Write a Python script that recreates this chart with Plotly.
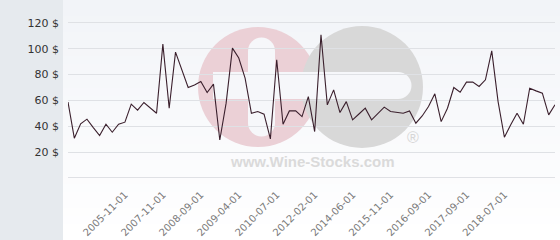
import plotly.graph_objects as go

prices = [58.7, 30.8, 41.9, 45.5, 39.0, 32.8, 41.6, 35.4, 41.6, 43.2,
          57.1, 52.5, 58.4, 54.2, 50.1, 103.6, 54.0, 97.4, 84.0, 70.0,
          72.0, 74.7, 66.1, 72.6, 29.4, 57.9, 100.5, 92.8, 77.3, 50.1,
          51.4, 49.4, 30.2, 91.5, 41.6, 51.9, 51.9, 47.5, 63.0, 35.9,
          110.8, 56.6, 68.2, 50.6, 59.1, 45.0, 49.5, 54.0, 45.0, 50.0,
          54.8, 51.4, 50.9, 50.1, 51.9, 42.4, 48.0, 55.3, 65.1, 43.6,
          54.0, 70.0, 66.4, 74.2, 74.2, 70.8, 76.0, 98.4, 59.1, 31.5,
          41.1, 50.1, 41.6, 69.5, 67.4, 65.6, 48.8, 56.6]
x_index = list(range(len(prices)))

x_tick_pos = [9, 15, 21, 27, 33, 39, 45, 51, 57, 63, 69]
x_tick_labels = ["2005-11-01", "2007-11-01", "2008-09-01", "2009-04-01",
                 "2010-07-01", "2012-02-01", "2014-06-01", "2015-11-01",
                 "2016-09-01", "2017-09-01", "2018-07-01"]
y_tick_vals = [0, 20, 40, 60, 80, 100, 120]
y_tick_labels = ["", "20 $", "40 $", "60 $", "80 $", "100 $", "120 $"]

W, H = 560, 240
L, R, T, B = 68, 5, 10, 61
PW, PH = W - L - R, H - T - B


def px(x):
    return (x - L) / PW


def py(y):
    return (H - B - y) / PH


shapes = []
shapes.append(dict(type="rect", xref="paper", yref="paper", x0=px(0), x1=px(63),
                   y0=py(240), y1=py(0), fillcolor="#e6eaee", line_width=0, layer="below"))
n = 30
c0 = (242, 244, 248)
c1 = (255, 255, 255)
for i in range(n):
    t = i / (n - 1)
    col = tuple(round(c0[k] + (c1[k] - c0[k]) * t) for k in range(3))
    shapes.append(dict(type="rect", xref="paper", yref="paper", x0=px(63), x1=px(560),
                       y0=py(240 * (i + 1) / n + 0.5), y1=py(240 * i / n),
                       fillcolor="rgb(%d,%d,%d)" % col, line_width=0, layer="below"))


def circ(cx, cy, r, color):
    return dict(type="circle", xref="paper", yref="paper", x0=px(cx - r), x1=px(cx + r),
                y0=py(cy + r), y1=py(cy - r), fillcolor=color, line_width=0, layer="below")


def rect(x0, y0, x1, y1, color):
    return dict(type="rect", xref="paper", yref="paper", x0=px(x0), x1=px(x1),
                y0=py(y1), y1=py(y0), fillcolor=color, line_width=0, layer="below")

pink = "#ebd0d6"
grey = "#d8d8d8"
wm = "#f6f7fa"
shapes.append(circ(258, 87, 60, pink))
shapes.append(circ(362, 87, 61, grey))
shapes.append(rect(213, 72, 398, 99, wm))
shapes.append(circ(398, 85.5, 13.5, wm))
shapes.append(rect(248, 51, 275, 123, wm))
shapes.append(circ(261.5, 51, 13.5, wm))
shapes.append(circ(261.5, 123, 13.5, wm))

fig = go.Figure()
fig.add_trace(go.Scatter(x=x_index, y=prices, mode="lines",
                         line=dict(color="#3a1f2c", width=1.1), hoverinfo="skip"))

fig.update_layout(
    width=W, height=H,
    margin=dict(l=L, r=R, t=T, b=B, autoexpand=False),
    paper_bgcolor="white",
    plot_bgcolor="rgba(0,0,0,0)",
    showlegend=False,
    shapes=shapes,
    annotations=[
        dict(text="<b>www.Wine-Stocks.com</b>", xref="paper", yref="paper",
             x=px(312), y=py(161), xanchor="center", yanchor="middle", showarrow=False,
             font=dict(family="Liberation Sans", size=15, color="#dadada")),
        dict(text="®", xref="paper", yref="paper", x=px(413), y=py(137),
             xanchor="center", yanchor="middle", showarrow=False,
             font=dict(family="Liberation Sans", size=16, color="#d6d6d6")),
    ],
    xaxis=dict(range=[0, len(prices) - 1], tickmode="array", tickvals=x_tick_pos,
               ticktext=x_tick_labels, tickangle=-45, showgrid=False, zeroline=False,
               showline=False, ticks="", ticklabelstandoff=7, automargin=False,
               tickfont=dict(family="DejaVu Sans", size=10, color="#7a7a7a")),
    yaxis=dict(range=[-0.8, 130], tickmode="array", tickvals=y_tick_vals,
               ticktext=y_tick_labels, showgrid=True, gridcolor="#dfe1e5", gridwidth=1,
               zeroline=False, showline=False, ticks="", ticklabelstandoff=8,
               automargin=False,
               tickfont=dict(family="DejaVu Sans", size=11, color="#333333")),
)

fig.write_html("out.html")
